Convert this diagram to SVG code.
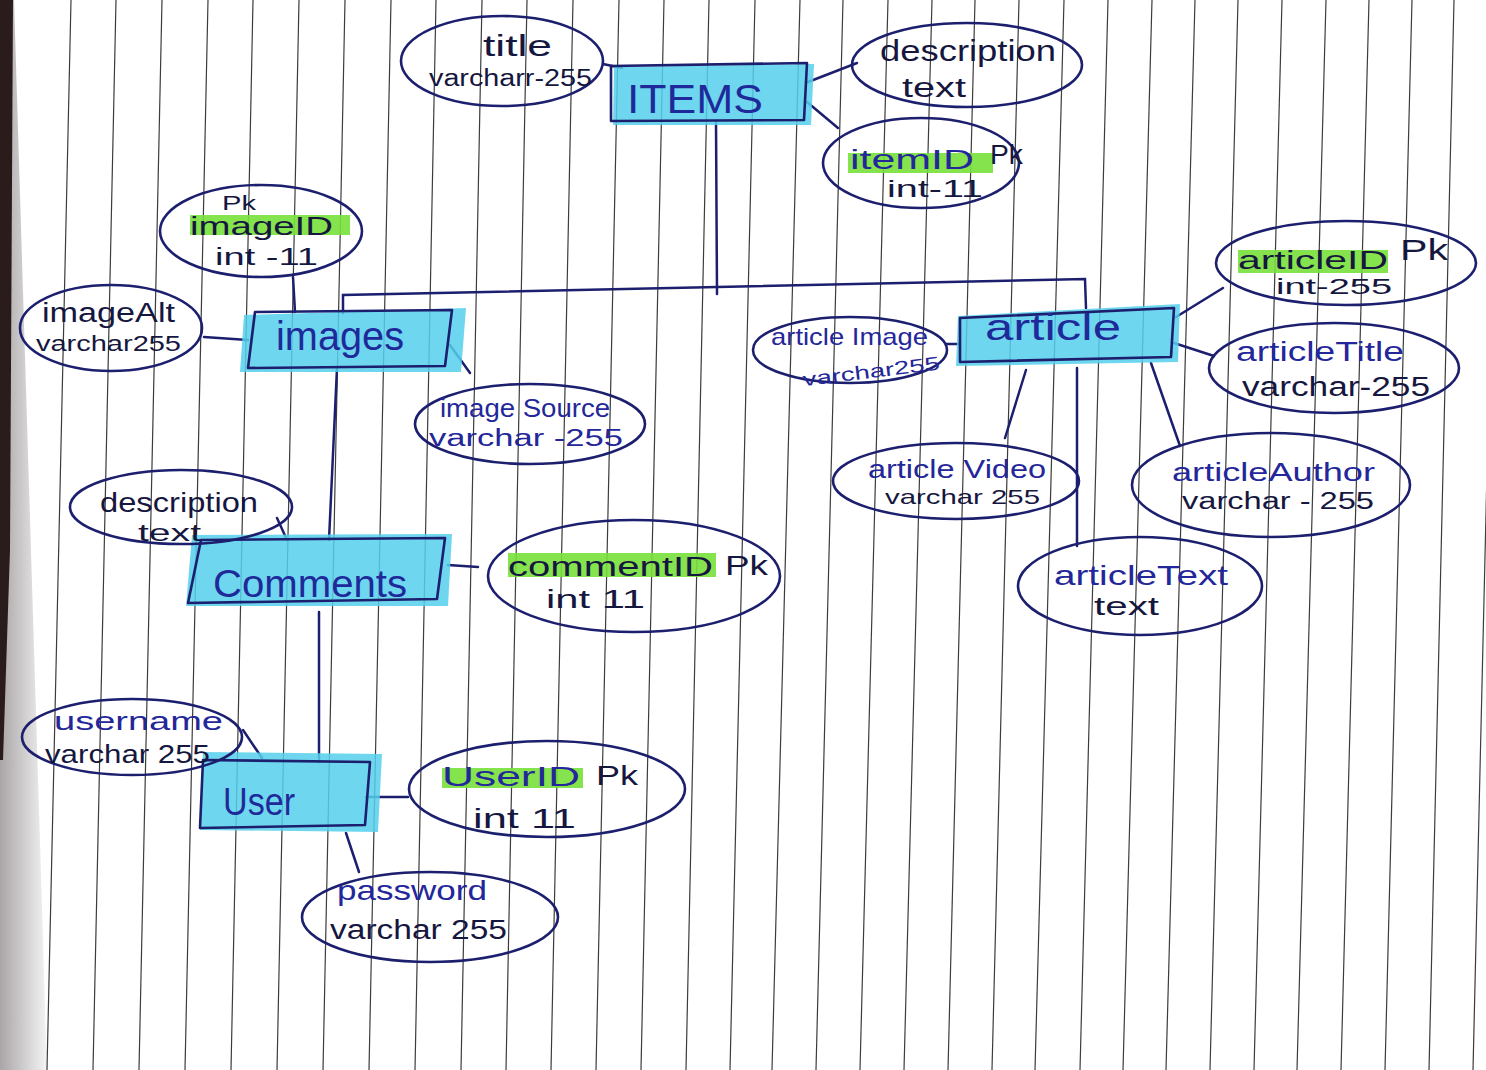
<svg xmlns="http://www.w3.org/2000/svg" width="1486" height="1070" viewBox="0 0 1486 1070">
<defs>
<style>
.rule{stroke:#3c3c3c;stroke-width:1.2;fill:none}
.ell{fill:none;stroke:#1c1f6e;stroke-width:2.6}
.box{fill:none;stroke:#1c1f6e;stroke-width:2.6;stroke-linejoin:round}
.hl{fill:#55d0ec;fill-opacity:0.85}
.pk{fill:#78e03a;fill-opacity:0.9}
.con{fill:none;stroke:#1c1f6e;stroke-width:2.5;stroke-linecap:round}
text{font-family:"Liberation Sans","DejaVu Sans",sans-serif;}
.ent{fill:#1f2a9a}
.blk{fill:#16173f}
.blu{fill:#24279a}
</style>
<linearGradient id="edge" x1="0" y1="0" x2="1" y2="0">
<stop offset="0" stop-color="#aaa5a7"/>
<stop offset="1" stop-color="#f4f4f4"/>
</linearGradient>
</defs>
<rect width="1486" height="1070" fill="#ffffff"/>
<g id="paper">
<polygon points="0,0 14,0 47,1070 0,1070" fill="url(#edge)"/>
<polygon points="0,0 13,0 10,550 3,760 0,760" fill="#2b1c1c"/>
<g class="rule">
<line x1="71" y1="0" x2="47" y2="1070"/>
<line x1="116" y1="0" x2="93" y2="1070"/>
<line x1="162" y1="0" x2="139" y2="1070"/>
<line x1="208" y1="0" x2="185" y2="1070"/>
<line x1="253" y1="0" x2="231" y2="1070"/>
<line x1="299" y1="0" x2="277" y2="1070"/>
<line x1="345" y1="0" x2="323" y2="1070"/>
<line x1="391" y1="0" x2="369" y2="1070"/>
<line x1="436" y1="0" x2="415" y2="1070"/>
<line x1="482" y1="0" x2="461" y2="1070"/>
<line x1="527" y1="0" x2="506" y2="1070"/>
<line x1="573" y1="0" x2="551" y2="1070"/>
<line x1="619" y1="0" x2="596" y2="1070"/>
<line x1="664" y1="0" x2="641" y2="1070"/>
<line x1="709" y1="0" x2="686" y2="1070"/>
<line x1="755" y1="0" x2="730" y2="1070"/>
<line x1="800" y1="0" x2="772" y2="1070"/>
<line x1="843" y1="0" x2="816" y2="1070"/>
<line x1="888" y1="0" x2="860" y2="1070"/>
<line x1="932" y1="0" x2="904" y2="1070"/>
<line x1="975" y1="0" x2="948" y2="1070"/>
<line x1="1019" y1="0" x2="992" y2="1070"/>
<line x1="1064" y1="0" x2="1035" y2="1070"/>
<line x1="1108" y1="0" x2="1080" y2="1070"/>
<line x1="1152" y1="0" x2="1123" y2="1070"/>
<line x1="1195" y1="0" x2="1166" y2="1070"/>
<line x1="1238" y1="0" x2="1210" y2="1070"/>
<line x1="1282" y1="0" x2="1254" y2="1070"/>
<line x1="1326" y1="0" x2="1297" y2="1070"/>
<line x1="1369" y1="0" x2="1341" y2="1070"/>
<line x1="1412" y1="0" x2="1385" y2="1070"/>
<line x1="1454" y1="0" x2="1429" y2="1070"/>
<line x1="1498" y1="0" x2="1473" y2="1070"/>
</g>
</g>

<g id="connectors" class="con">
<path d="M603,64 L622,68"/>
<path d="M808,82 L857,63"/>
<path d="M807,102 L838,128"/>
<path d="M716,121 L717,294"/>
<path d="M343,313 L343,295 L1085,279 L1086,308"/>
<path d="M293,277 L295,312"/>
<path d="M204,337 L248,340"/>
<path d="M450,345 L470,373"/>
<path d="M337,368 L329,540"/>
<path d="M277,518 L287,540"/>
<path d="M448,565 L478,567"/>
<path d="M319,612 L319,762"/>
<path d="M243,730 L262,758"/>
<path d="M366,797 L408,797"/>
<path d="M346,833 L359,872"/>
<path d="M946,344 L960,344"/>
<path d="M1176,317 L1223,288"/>
<path d="M1174,343 L1214,356"/>
<path d="M1026,370 L1005,438"/>
<path d="M1077,368 L1077,546"/>
<path d="M1151,363 L1180,446"/>
</g>

<g id="ITEMS">
<polygon class="hl" points="614,67 814,64 811,125 613,125"/>
<polygon class="box" points="611,66 807,63 804,120 611,121"/>
<text class="ent" x="627" y="113" font-size="40" textLength="136" lengthAdjust="spacingAndGlyphs">ITEMS</text>
</g>

<g id="title">
<ellipse class="ell" cx="502" cy="61" rx="101" ry="45"/>
<text class="blk" x="483" y="56" font-size="30" textLength="69" lengthAdjust="spacingAndGlyphs">title</text>
<text class="blk" x="429" y="86" font-size="23" textLength="163" lengthAdjust="spacingAndGlyphs">varcharr-255</text>
</g>

<g id="items-description">
<ellipse class="ell" cx="967" cy="65" rx="115" ry="42"/>
<text class="blk" x="880" y="61" font-size="30" textLength="176" lengthAdjust="spacingAndGlyphs">description</text>
<text class="blk" x="902" y="97" font-size="27" textLength="64" lengthAdjust="spacingAndGlyphs">text</text>
</g>

<g id="itemID">
<ellipse class="ell" cx="921" cy="163" rx="98" ry="45"/>
<rect class="pk" x="848" y="153" width="145" height="20"/>
<text class="blu" x="850" y="169" font-size="27" textLength="124" lengthAdjust="spacingAndGlyphs">itemID</text>
<text class="blk" x="990" y="164" font-size="27" textLength="33" lengthAdjust="spacingAndGlyphs">Pk</text>
<text class="blk" x="887" y="197" font-size="24" textLength="96" lengthAdjust="spacingAndGlyphs">int-11</text>
</g>

<g id="images">
<polygon class="hl" points="244,315 466,308 461,372 240,372"/>
<polygon class="box" points="255,312 452,310 445,366 248,368"/>
<text class="ent" x="276" y="350" font-size="40" textLength="128" lengthAdjust="spacingAndGlyphs">images</text>
</g>

<g id="imageID">
<ellipse class="ell" cx="261" cy="231" rx="101" ry="46"/>
<rect class="pk" x="190" y="215" width="160" height="20"/>
<text class="blk" x="222" y="210" font-size="21" textLength="34" lengthAdjust="spacingAndGlyphs">Pk</text>
<text class="blk" x="190" y="235" font-size="25" textLength="143" lengthAdjust="spacingAndGlyphs">imageID</text>
<text class="blk" x="215" y="265" font-size="23" textLength="103" lengthAdjust="spacingAndGlyphs">int -11</text>
</g>

<g id="imageAlt">
<ellipse class="ell" cx="111" cy="328" rx="91" ry="43"/>
<text class="blk" x="42" y="322" font-size="27" textLength="133" lengthAdjust="spacingAndGlyphs">imageAlt</text>
<text class="blk" x="36" y="351" font-size="22" textLength="145" lengthAdjust="spacingAndGlyphs">varchar255</text>
</g>

<g id="imageSource">
<ellipse class="ell" cx="530" cy="424" rx="115" ry="40"/>
<text class="blu" x="440" y="417" font-size="25" textLength="170" lengthAdjust="spacingAndGlyphs">image Source</text>
<text class="blu" x="429" y="446" font-size="23" textLength="194" lengthAdjust="spacingAndGlyphs">varchar -255</text>
</g>

<g id="Comments">
<polygon class="hl" points="192,535 452,534 448,606 186,606"/>
<polygon class="box" points="201,540 445,538 437,599 188,603"/>
<text class="ent" x="213" y="597" font-size="39" textLength="194" lengthAdjust="spacingAndGlyphs">Comments</text>
</g>

<g id="comments-description">
<ellipse class="ell" cx="181" cy="507" rx="111" ry="37"/>
<text class="blk" x="100" y="512" font-size="28" textLength="158" lengthAdjust="spacingAndGlyphs">description</text>
<text class="blk" x="138" y="541" font-size="24" textLength="63" lengthAdjust="spacingAndGlyphs">text</text>
</g>

<g id="commentID">
<ellipse class="ell" cx="634" cy="576" rx="146" ry="56"/>
<rect class="pk" x="508" y="553" width="208" height="24"/>
<text class="blk" x="508" y="576" font-size="27" textLength="205" lengthAdjust="spacingAndGlyphs">commentID</text>
<text class="blk" x="725" y="575" font-size="27" textLength="43" lengthAdjust="spacingAndGlyphs">Pk</text>
<text class="blk" x="546" y="608" font-size="25" textLength="99" lengthAdjust="spacingAndGlyphs">int 11</text>
</g>

<g id="User">
<polygon class="hl" points="203,752 382,754 378,832 200,830"/>
<polygon class="box" points="203,760 370,762 365,825 200,828"/>
<text class="ent" x="223" y="815" font-size="38" textLength="72" lengthAdjust="spacingAndGlyphs">User</text>
</g>

<g id="username">
<ellipse class="ell" cx="132" cy="737" rx="110" ry="38"/>
<text class="blu" x="54" y="730" font-size="26" textLength="169" lengthAdjust="spacingAndGlyphs">username</text>
<text class="blk" x="45" y="763" font-size="25" textLength="165" lengthAdjust="spacingAndGlyphs">varchar 255</text>
</g>

<g id="UserID">
<ellipse class="ell" cx="547" cy="789" rx="138" ry="48"/>
<rect class="pk" x="442" y="768" width="141" height="20"/>
<text class="blu" x="442" y="786" font-size="27" textLength="138" lengthAdjust="spacingAndGlyphs">UserID</text>
<text class="blk" x="596" y="785" font-size="27" textLength="42" lengthAdjust="spacingAndGlyphs">Pk</text>
<text class="blk" x="473" y="828" font-size="28" textLength="103" lengthAdjust="spacingAndGlyphs">int 11</text>
</g>

<g id="password">
<ellipse class="ell" cx="430" cy="917" rx="128" ry="45"/>
<text class="blu" x="337" y="900" font-size="28" textLength="150" lengthAdjust="spacingAndGlyphs">password</text>
<text class="blk" x="330" y="939" font-size="27" textLength="177" lengthAdjust="spacingAndGlyphs">varchar 255</text>
</g>

<g id="article">
<polygon class="hl" points="958,316 1180,304 1178,362 956,366"/>
<polygon class="box" points="960,318 1174,308 1171,357 960,362"/>
<text class="ent" x="985" y="340" font-size="36" textLength="136" lengthAdjust="spacingAndGlyphs">article</text>
</g>

<g id="articleImage">
<ellipse class="ell" cx="850" cy="350" rx="97" ry="33"/>
<text class="blu" x="771" y="345" font-size="24" textLength="157" lengthAdjust="spacingAndGlyphs">article Image</text>
<text class="blu" x="802" y="378" font-size="19" textLength="138" lengthAdjust="spacingAndGlyphs" transform="rotate(-7 870 370)">varchar255</text>
</g>

<g id="articleID">
<ellipse class="ell" cx="1346" cy="263" rx="130" ry="42"/>
<rect class="pk" x="1238" y="250" width="150" height="23"/>
<text class="blk" x="1238" y="269" font-size="25" textLength="150" lengthAdjust="spacingAndGlyphs">articleID</text>
<text class="blk" x="1400" y="260" font-size="29" textLength="48" lengthAdjust="spacingAndGlyphs">Pk</text>
<text class="blk" x="1276" y="294" font-size="22" textLength="116" lengthAdjust="spacingAndGlyphs">int-255</text>
</g>

<g id="articleTitle">
<ellipse class="ell" cx="1334" cy="368" rx="125" ry="45"/>
<text class="blu" x="1236" y="361" font-size="27" textLength="168" lengthAdjust="spacingAndGlyphs">articleTitle</text>
<text class="blk" x="1242" y="396" font-size="27" textLength="188" lengthAdjust="spacingAndGlyphs">varchar-255</text>
</g>

<g id="articleVideo">
<ellipse class="ell" cx="956" cy="481" rx="123" ry="38"/>
<text class="blu" x="868" y="478" font-size="26" textLength="178" lengthAdjust="spacingAndGlyphs">article Video</text>
<text class="blk" x="885" y="504" font-size="21" textLength="155" lengthAdjust="spacingAndGlyphs">varchar 255</text>
</g>

<g id="articleAuthor">
<ellipse class="ell" cx="1271" cy="485" rx="139" ry="52"/>
<text class="blu" x="1172" y="481" font-size="26" textLength="203" lengthAdjust="spacingAndGlyphs">articleAuthor</text>
<text class="blk" x="1182" y="509" font-size="23" textLength="192" lengthAdjust="spacingAndGlyphs">varchar - 255</text>
</g>

<g id="articleText">
<ellipse class="ell" cx="1140" cy="586" rx="122" ry="49"/>
<text class="blu" x="1054" y="585" font-size="28" textLength="174" lengthAdjust="spacingAndGlyphs">articleText</text>
<text class="blk" x="1094" y="615" font-size="25" textLength="65" lengthAdjust="spacingAndGlyphs">text</text>
</g>
</svg>
